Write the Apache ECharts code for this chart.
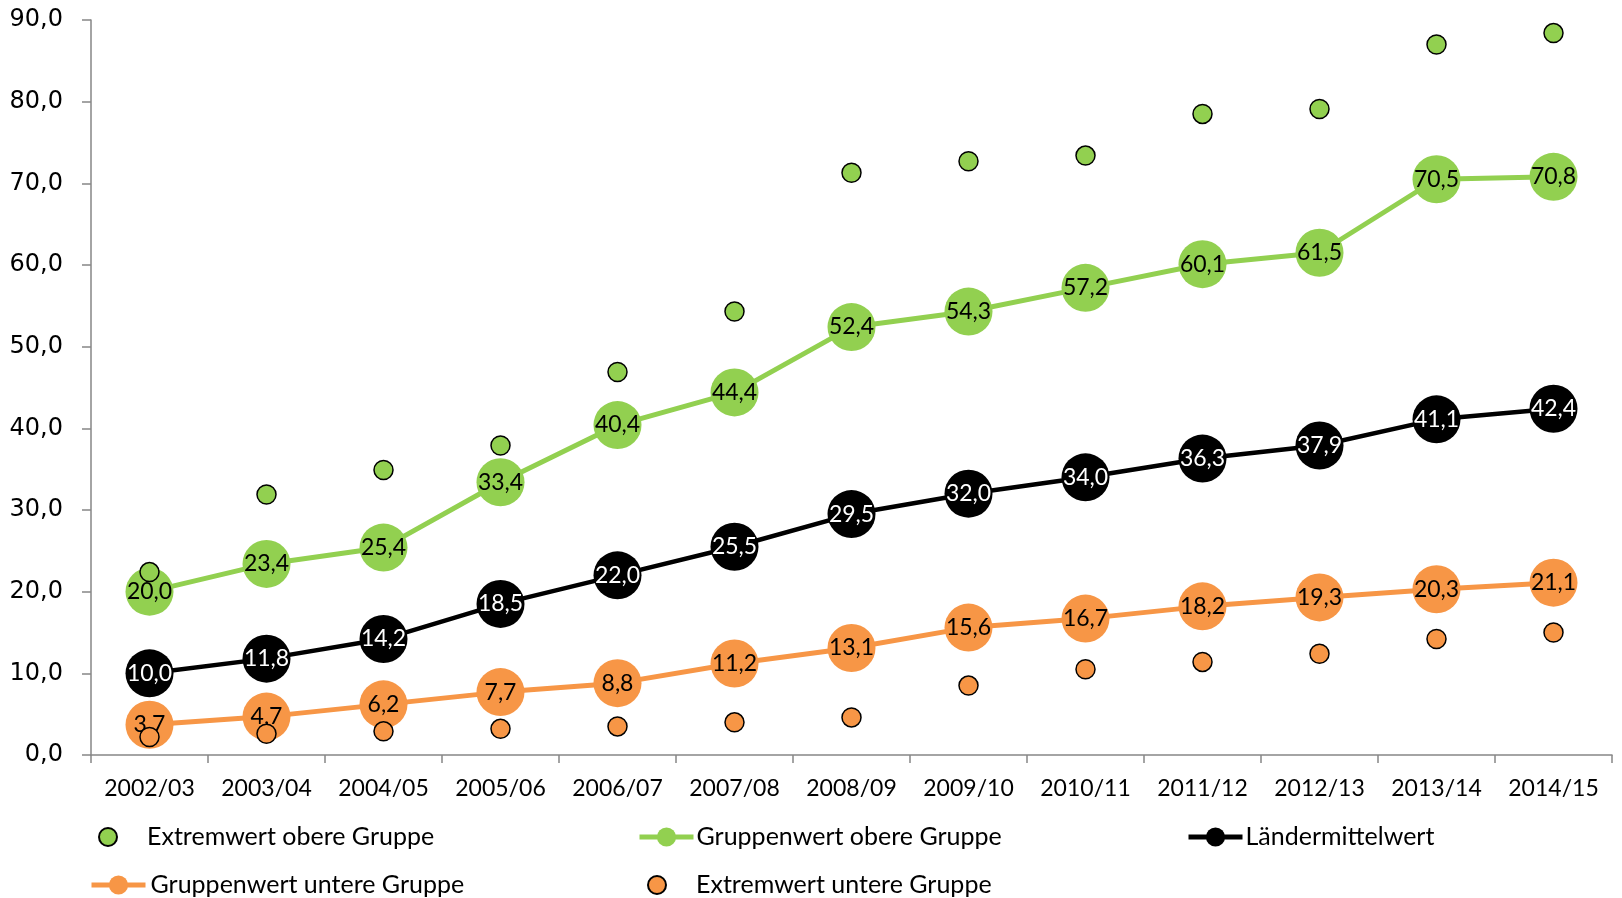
<!DOCTYPE html>
<html>
<head>
<meta charset="utf-8">
<script src="https://cdn.jsdelivr.net/npm/echarts@6/dist/echarts.min.js"></script>
<style>
html,body{margin:0;padding:0;background:#fff;}
#chart{width:1622px;height:898px;}
</style>
</head>
<body>
<div id="chart"></div>
<script>
const categories = ['2002/03','2003/04','2004/05','2005/06','2006/07','2007/08','2008/09','2009/10','2010/11','2011/12','2012/13','2013/14','2014/15'];
const extremeUpper = [22.4, 31.9, 34.9, 37.9, 46.9, 54.3, 71.3, 72.7, 73.4, 78.5, 79.1, 87.0, 88.4];
const groupUpper = [20.0, 23.4, 25.4, 33.4, 40.4, 44.4, 52.4, 54.3, 57.2, 60.1, 61.5, 70.5, 70.8];
const laenderMittel = [10.0, 11.8, 14.2, 18.5, 22.0, 25.5, 29.5, 32.0, 34.0, 36.3, 37.9, 41.1, 42.4];
const groupLower = [3.7, 4.7, 6.2, 7.7, 8.8, 11.2, 13.1, 15.6, 16.7, 18.2, 19.3, 20.3, 21.1];
const extremeLower = [2.2, 2.6, 2.9, 3.2, 3.5, 4.0, 4.6, 8.5, 10.5, 11.4, 12.4, 14.2, 15.0];
const seriesNames = ['Extremwert obere Gruppe','Gruppenwert obere Gruppe','Ländermittelwert','Gruppenwert untere Gruppe','Extremwert untere Gruppe'];

const GREEN = '#92D050', ORANGE = '#F79646', BLACK = '#000000';
const fmt = v => v.toFixed(1).replace('.', ',');
const labelFont = 'Lato, Carlito, sans-serif';

function lineSeries(name, data, color, labelColor, width) {
  return {
    name, type: 'line', data,
    symbol: 'circle', symbolSize: 48,
    lineStyle: {color, width},
    itemStyle: {color},
    label: {show: true, position: 'inside', color: labelColor, fontFamily: labelFont, fontSize: 23,
      formatter: p => fmt(p.value)},
    z: 2
  };
}
function scatterSeries(name, data, color) {
  return {
    name, type: 'scatter', data,
    symbol: 'circle', symbolSize: 19,
    itemStyle: {color, borderColor: '#000', borderWidth: 1.5, opacity: 1},
    z: 3
  };
}
function legendAt(name, left, top, isScatter, textPad) {
  const l = {
    data: [name], left, top, padding: 0, orient: 'horizontal',
    itemWidth: isScatter ? 36 : 54, itemHeight: isScatter ? 18 : 24,
    selectedMode: false,
    textStyle: {fontFamily: labelFont, fontSize: 25, color: '#000', lineHeight: 28, padding: [0,0,0,textPad]}
  };
  if (!isScatter) l.lineStyle = {width: 5};
  return l;
}

const chart = echarts.init(document.getElementById('chart'), null, {renderer: 'canvas'});
chart.setOption({
  animation: false,
  backgroundColor: '#fff',
  grid: {left: 91, right: 10, top: 20, bottom: 143, containLabel: false},
  legend: [
    legendAt(seriesNames[0], 98, 823, true, 16),
    legendAt(seriesNames[1], 637, 823, false, -2),
    legendAt(seriesNames[2], 1186, 823, false, -2),
    legendAt(seriesNames[3], 89, 871, false, 0),
    legendAt(seriesNames[4], 647, 871, true, 16)
  ],
  xAxis: {
    type: 'category', data: categories, boundaryGap: true,
    axisLine: {lineStyle: {color: '#868686', width: 1.5}},
    axisTick: {show: true, length: 8, lineStyle: {color: '#868686', width: 1.5}},
    axisLabel: {fontFamily: labelFont, fontSize: 23, color: '#000', margin: 22, interval: 0},
    splitLine: {show: false}
  },
  yAxis: {
    type: 'value', min: 0, max: 90, interval: 10,
    axisLine: {show: true, lineStyle: {color: '#868686', width: 1.5}},
    axisTick: {show: true, length: 9, lineStyle: {color: '#868686', width: 1.5}},
    axisLabel: {fontFamily: 'DejaVu Sans, Verdana, sans-serif', fontSize: 24, color: '#000', margin: 28,
      formatter: v => fmt(v)},
    splitLine: {show: false}
  },
  series: [
    lineSeries(seriesNames[1], groupUpper, GREEN, '#000', 5),
    lineSeries(seriesNames[2], laenderMittel, BLACK, '#fff', 4.5),
    lineSeries(seriesNames[3], groupLower, ORANGE, '#000', 5),
    scatterSeries(seriesNames[0], extremeUpper, GREEN),
    scatterSeries(seriesNames[4], extremeLower, ORANGE)
  ]
});
</script>
</body>
</html>
